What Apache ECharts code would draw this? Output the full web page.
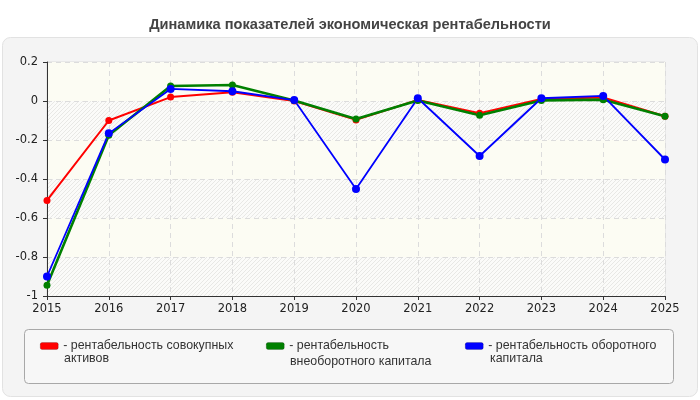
<!DOCTYPE html>
<html>
<head>
<meta charset="utf-8">
<script src="https://cdn.jsdelivr.net/npm/echarts@6/dist/echarts.min.js"></script>
<style>
  html, body { margin: 0; padding: 0; background: #fff; }
  #chart { width: 700px; height: 400px; }
</style>
</head>
<body>
<div id="chart"></div>
<script>
var years = ['2015', '2016', '2017', '2018', '2019', '2020', '2021', '2022', '2023', '2024', '2025'];
var assets = [-0.51, -0.10, 0.02, 0.045, 0.0, -0.097, 0.005, -0.063, 0.01, 0.018, -0.078];   // совокупных активов
var fixedCap = [-0.945, -0.176, 0.077, 0.082, 0.002, -0.092, 0.003, -0.073, 0.003, 0.007, -0.078]; // внеоборотного капитала
var workCap = [-0.90, -0.166, 0.062, 0.05, 0.005, -0.451, 0.014, -0.282, 0.014, 0.026, -0.30];    // оборотного капитала
var names = ['рентабельность совокупных активов', 'рентабельность внеоборотного капитала', 'рентабельность оборотного капитала'];

var FONT = '"Liberation Sans", Arial, sans-serif';
var LEG_FONT = '12.4px ' + FONT;

// штриховка для полос фона
function hatch() {
  var c = document.createElement('canvas');
  c.width = 8; c.height = 8;
  var ctx = c.getContext('2d');
  ctx.fillStyle = '#fbfbf9';
  ctx.fillRect(0, 0, 8, 8);
  ctx.strokeStyle = '#e8e8e5';
  ctx.lineWidth = 1;
  ctx.beginPath();
  ctx.moveTo(0, 4); ctx.lineTo(4, 0);
  ctx.moveTo(0, 8); ctx.lineTo(8, 0);
  ctx.moveTo(4, 8); ctx.lineTo(8, 4);
  ctx.stroke();
  return { image: c, repeat: 'repeat' };
}

function legendOf(idx, text, left, color) {
  return {
    data: [names[idx]],
    left: left,
    top: 335,
    icon: 'roundRect',
    itemWidth: 18,
    itemHeight: 7,
    itemGap: 5,
    selectedMode: false,
    itemStyle: { color: color, borderColor: 'rgba(0,0,0,0.35)', borderWidth: 0.5 },
    formatter: function () { return '- ' + text; },
    textStyle: { fontFamily: FONT, fontSize: 12.4, color: '#333' }
  };
}

function secondLine(text, x, y) {
  return { type: 'text', x: x, y: y, style: { text: text, font: LEG_FONT, fill: '#333', verticalAlign: 'middle' } };
}

var chart = echarts.init(document.getElementById('chart'));
var option = {
  animation: false,
  backgroundColor: '#fff',
  title: {
    text: 'Динамика показателей экономическая рентабельности',
    left: 'center',
    top: 12,
    textStyle: { fontFamily: FONT, fontSize: 14.6, fontWeight: 'bold', color: '#444' }
  },
  graphic: [
    { type: 'rect', z: -100, shape: { x: 2.5, y: 37.5, width: 695, height: 359, r: 8 },
      style: { fill: '#f4f4f4', stroke: '#e2e2e2', lineWidth: 1 } },
    { type: 'rect', z: -90, shape: { x: 24.5, y: 329.5, width: 649, height: 54, r: 4 },
      style: { fill: '#f7f7f7', stroke: '#a8a8a8', lineWidth: 1 } },
    secondLine('активов', 64, 358.5),
    secondLine('внеоборотного капитала', 290, 361.5),
    secondLine('капитала', 490, 358.5)
  ],
  legend: [
    legendOf(0, 'рентабельность совокупных', 35, '#ff0000'),
    legendOf(1, 'рентабельность', 261, '#008000'),
    legendOf(2, 'рентабельность оборотного', 460, '#0000ff')
  ],
  grid: {
    left: 47, right: 35, top: 62, bottom: 104,
    show: true, borderColor: '#dcdcdc', borderWidth: 1, backgroundColor: 'transparent'
  },
  xAxis: {
    type: 'category',
    data: years,
    boundaryGap: false,
    axisLine: { onZero: false, lineStyle: { color: '#333', width: 1 } },
    axisTick: { show: true, length: 4, lineStyle: { color: '#333' } },
    axisLabel: { fontFamily: '"DejaVu Sans", sans-serif', fontSize: 11.5, color: '#222', margin: 7 },
    splitLine: { show: true, lineStyle: { color: '#dcdcdc', type: [5, 4] } }
  },
  yAxis: {
    type: 'value',
    min: -1,
    max: 0.2,
    interval: 0.2,
    axisLine: { show: true, lineStyle: { color: '#333', width: 1 } },
    axisTick: { show: true, length: 4, lineStyle: { color: '#333' } },
    axisLabel: { fontFamily: '"DejaVu Sans", sans-serif', fontSize: 11.5, color: '#222', margin: 9 },
    splitLine: { show: true, lineStyle: { color: '#dcdcdc', type: [5, 4] } },
    splitArea: { show: true, areaStyle: { color: [hatch(), '#fcfcf3'] } }
  },
  series: [
    { name: names[0], type: 'line', data: assets, symbol: 'circle', symbolSize: 7,
      itemStyle: { color: '#ff0000' }, lineStyle: { width: 2 } },
    { name: names[1], type: 'line', data: fixedCap, symbol: 'circle', symbolSize: 7,
      itemStyle: { color: '#008000' }, lineStyle: { width: 2.6 } },
    { name: names[2], type: 'line', data: workCap, symbol: 'circle', symbolSize: 8,
      itemStyle: { color: '#0000ff' }, lineStyle: { width: 1.8 } }
  ]
};
chart.setOption(option);
</script>
</body>
</html>
